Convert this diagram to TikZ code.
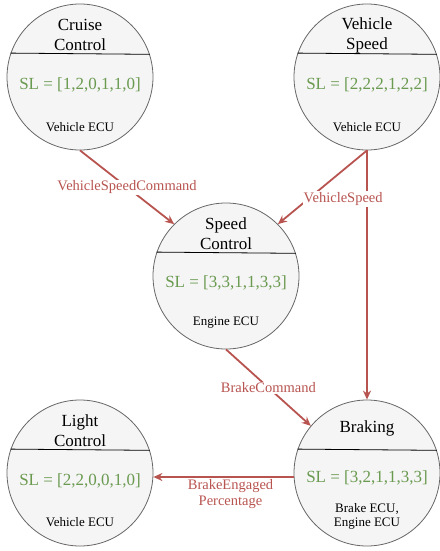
\documentclass[tikz,border=0pt]{standalone}
\usepackage{fontspec}
\setmainfont{Liberation Serif}
\usetikzlibrary{arrows.meta}
\definecolor{nodefill}{HTML}{F5F5F5}
\definecolor{nodeline}{HTML}{666666}
\definecolor{slgreen}{HTML}{6A9A50}
\definecolor{flowred}{HTML}{B85450}
\begin{document}
\begin{tikzpicture}[x=1pt,y=1pt,
 comp/.style={circle, draw=nodeline, fill=nodefill, line width=0.8pt, minimum size=146pt, inner sep=0pt},
 divider/.style={draw=black, line width=0.8pt},
 title/.style={align=center, font=\rmfamily\fontsize{17}{20}\selectfont, inner sep=0pt},
 sl/.style={text=slgreen, font=\rmfamily\fontsize{17}{20}\selectfont, inner sep=0pt},
 ecu/.style={align=center, font=\rmfamily\fontsize{13}{14}\selectfont, inner sep=0pt},
 flow/.style={draw=flowred, line width=1.8pt, -{Stealth[length=9pt,width=8pt]}},
 lbl/.style={text=flowred, fill=white, font=\rmfamily\fontsize{14.5}{16}\selectfont, inner sep=1pt, align=center}]
\useasboundingbox (0,0) rectangle (439,-551);

\node[comp] (cc) at (80,-77) {};
\node[comp] (vs) at (367,-77) {};
\node[comp] (sc) at (226,-276) {};
\node[comp] (lc) at (80,-473) {};
\node[comp] (br) at (367,-473) {};

\draw[divider] (cc.161.6) -- (cc.18.4);
\draw[divider] (vs.161.6) -- (vs.18.4);
\draw[divider] (sc.161.6) -- (sc.18.4);
\draw[divider] (lc.161.6) -- (lc.18.4);
\draw[divider] (br.161.6) -- (br.18.4);

\node[title] (cct) at ([yshift=42pt]cc.center) {Cruise\\Control};
\node[sl] (ccs) at ([yshift=-8pt]cc.center) {SL = [1,2,0,1,1,0]};
\node[ecu] (cce) at ([yshift=-50pt]cc.center) {Vehicle ECU};

\node[title] (vst) at ([yshift=42pt]vs.center) {Vehicle\\Speed};
\node[sl] (vss) at ([yshift=-8pt]vs.center) {SL = [2,2,2,1,2,2]};
\node[ecu] (vse) at ([yshift=-50pt]vs.center) {Vehicle ECU};

\node[title] (sct) at ([yshift=42pt]sc.center) {Speed\\Control};
\node[sl] (scs) at ([yshift=-7pt]sc.center) {SL = [3,3,1,1,3,3]};
\node[ecu] (sce) at ([yshift=-47pt]sc.center) {Engine ECU};

\node[title] (lct) at ([yshift=42pt]lc.center) {Light\\Control};
\node[sl] (lcs) at ([yshift=-8pt]lc.center) {SL = [2,2,0,0,1,0]};
\node[ecu] (lce) at ([yshift=-49pt]lc.center) {Vehicle ECU};

\node[title] (brt) at ([yshift=45pt]br.center) {Braking};
\node[sl] (brs) at ([yshift=-5pt]br.center) {SL = [3,2,1,1,3,3]};
\node[ecu] (bre) at ([yshift=-43pt]br.center) {Brake ECU,\\Engine ECU};

\draw[flow] (cc.south) -- node[lbl] (l1) {VehicleSpeedCommand} (sc.135);
\draw[flow] (vs.south) -- (sc.45);
\draw[flow] (vs.south) -- (br.north);
\path (vs.south) -- node[lbl, pos=0.66, xshift=35pt] (l2) {VehicleSpeed} (sc.45);
\draw[flow] (sc.south) -- node[lbl] (l3) {BrakeCommand} (br.140);
\draw[flow] ([yshift=-4pt]br.west) -- node[lbl, pos=0.45, anchor=north, fill=none, yshift=-1pt] (l4) {BrakeEngaged\\Percentage} ([yshift=-4pt]lc.east);
\end{tikzpicture}
\end{document}
